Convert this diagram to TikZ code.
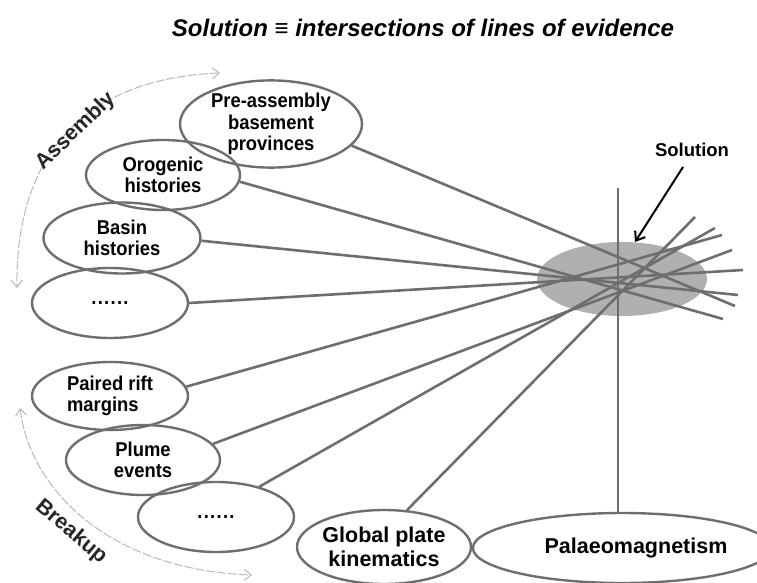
\documentclass[tikz,border=0pt]{standalone}
\usepackage{fontspec}
\setmainfont{Liberation Sans}
\newfontfamily\narrowsans[FakeStretch=0.92]{Liberation Sans}
\usetikzlibrary{shapes.geometric,arrows.meta}
\definecolor{lnc}{HTML}{6E6E6E}
\definecolor{arcc}{HTML}{B8B8B8}
\definecolor{solfill}{HTML}{B0B0B0}
\newcommand{\sixdots}{.\kern1.3pt.\kern1.3pt.\kern1.3pt.\kern1.3pt.\kern1.3pt.}
\tikzset{
  ev/.style={ellipse, draw=lnc, line width=2.4pt, inner sep=0pt, align=center,
    font=\narrowsans\fontsize{20}{21.5}\selectfont\bfseries},
  evbig/.style={ev, font=\fontsize{21.5}{24}\selectfont\bfseries},
  evline/.style={draw=lnc, line width=2.6pt},
  cyc/.style={draw=arcc, line width=1pt, dash pattern=on 9pt off 2pt,
    {Straight Barb[length=7pt,width=11pt]}-{Straight Barb[length=7pt,width=11pt]}},
  cyclabel/.style={font=\fontsize{21.5}{24}\selectfont\bfseries, text=black!85},
}
\begin{document}
\begin{tikzpicture}[x=1pt,y=-1pt]
\useasboundingbox (0,0) rectangle (757,583);
% title
\node[font=\fontsize{24}{28}\selectfont\bfseries\itshape] (title) at (423,28)
  {Solution ≡ intersections of lines of evidence};
% solution zone
\node[ellipse, fill=solfill, minimum width=170pt, minimum height=74pt, inner sep=0pt] (zone) at (622,279) {};
% evidence ellipses
\node[ev, minimum width=182pt, minimum height=84pt] (pre) at (271,124) {Pre-assembly\\basement\\provinces};
\node[ev, minimum width=154pt, minimum height=70pt] (oro) at (163,175) {Orogenic\\histories};
\node[ev, minimum width=157pt, minimum height=71pt] (basin) at (122,238) {Basin\\histories};
\node[ev, minimum width=156pt, minimum height=70pt] (dotsa) at (110,303) {\sixdots};
\node[ev, minimum width=156pt, minimum height=68pt, align=left] (paired) at (110,396) {Paired rift\\margins};
\node[ev, minimum width=154pt, minimum height=70pt] (plume) at (143,460) {Plume\\events};
\node[ev, minimum width=156pt, minimum height=70pt] (dotsb) at (216,517) {\sixdots};
\node[evbig, minimum width=172pt, minimum height=74pt] (global) at (384,547) {Global plate\\kinematics};
\node[evbig, minimum width=270pt, minimum height=70pt] (palaeo) at (622,548) {\hspace*{28pt}Palaeomagnetism};
% line end points
\coordinate (epre) at (735,306);
\coordinate (eoro) at (723,319);
\coordinate (ebasin) at (738,295);
\coordinate (edotsa) at (743,270);
\coordinate (epaired) at (722,235);
\coordinate (eplume) at (732,250);
\coordinate (edotsb) at (715,228);
\coordinate (eglobal) at (695,217);
\coordinate (vtop) at (618,188);
% lines of evidence
\draw[evline] (pre.-15) -- (epre);
\draw[evline] (oro.-5) -- (eoro);
\draw[evline] (basin.-2) -- (ebasin);
\draw[evline] (dotsa.0) -- (edotsa);
\draw[evline] (paired.7) -- (epaired);
\draw[evline] (plume.13) -- (eplume);
\draw[evline] (dotsb.35) -- (edotsb);
\draw[evline] (global.58) -- (eglobal);
\draw[evline] (vtop) -- (vtop |- palaeo.north);
% solution label and arrow
\node[font=\fontsize{18.5}{21}\selectfont\bfseries] (sol) at (692,150) {Solution};
\coordinate (solstart) at (683,167);
\coordinate (soltip) at (635,242);
\draw[line width=2pt, -{Straight Barb[length=8pt,width=12pt]}] (solstart) -- (soltip);
% cycle arcs
\coordinate (aa) at (220,73);
\coordinate (ab) at (17,288);
\draw[cyc] (aa) .. controls (90,78) and (15,150) .. (ab);
\node[cyclabel, rotate=44] (asm) at (76,131) {Assembly};
\coordinate (ba) at (20,408);
\coordinate (bb) at (252,575);
\draw[cyc] (ba) .. controls (30,490) and (110,570) .. (bb);
\node[cyclabel, rotate=-40] (brk) at (71,532) {Breakup};
\end{tikzpicture}
\end{document}
